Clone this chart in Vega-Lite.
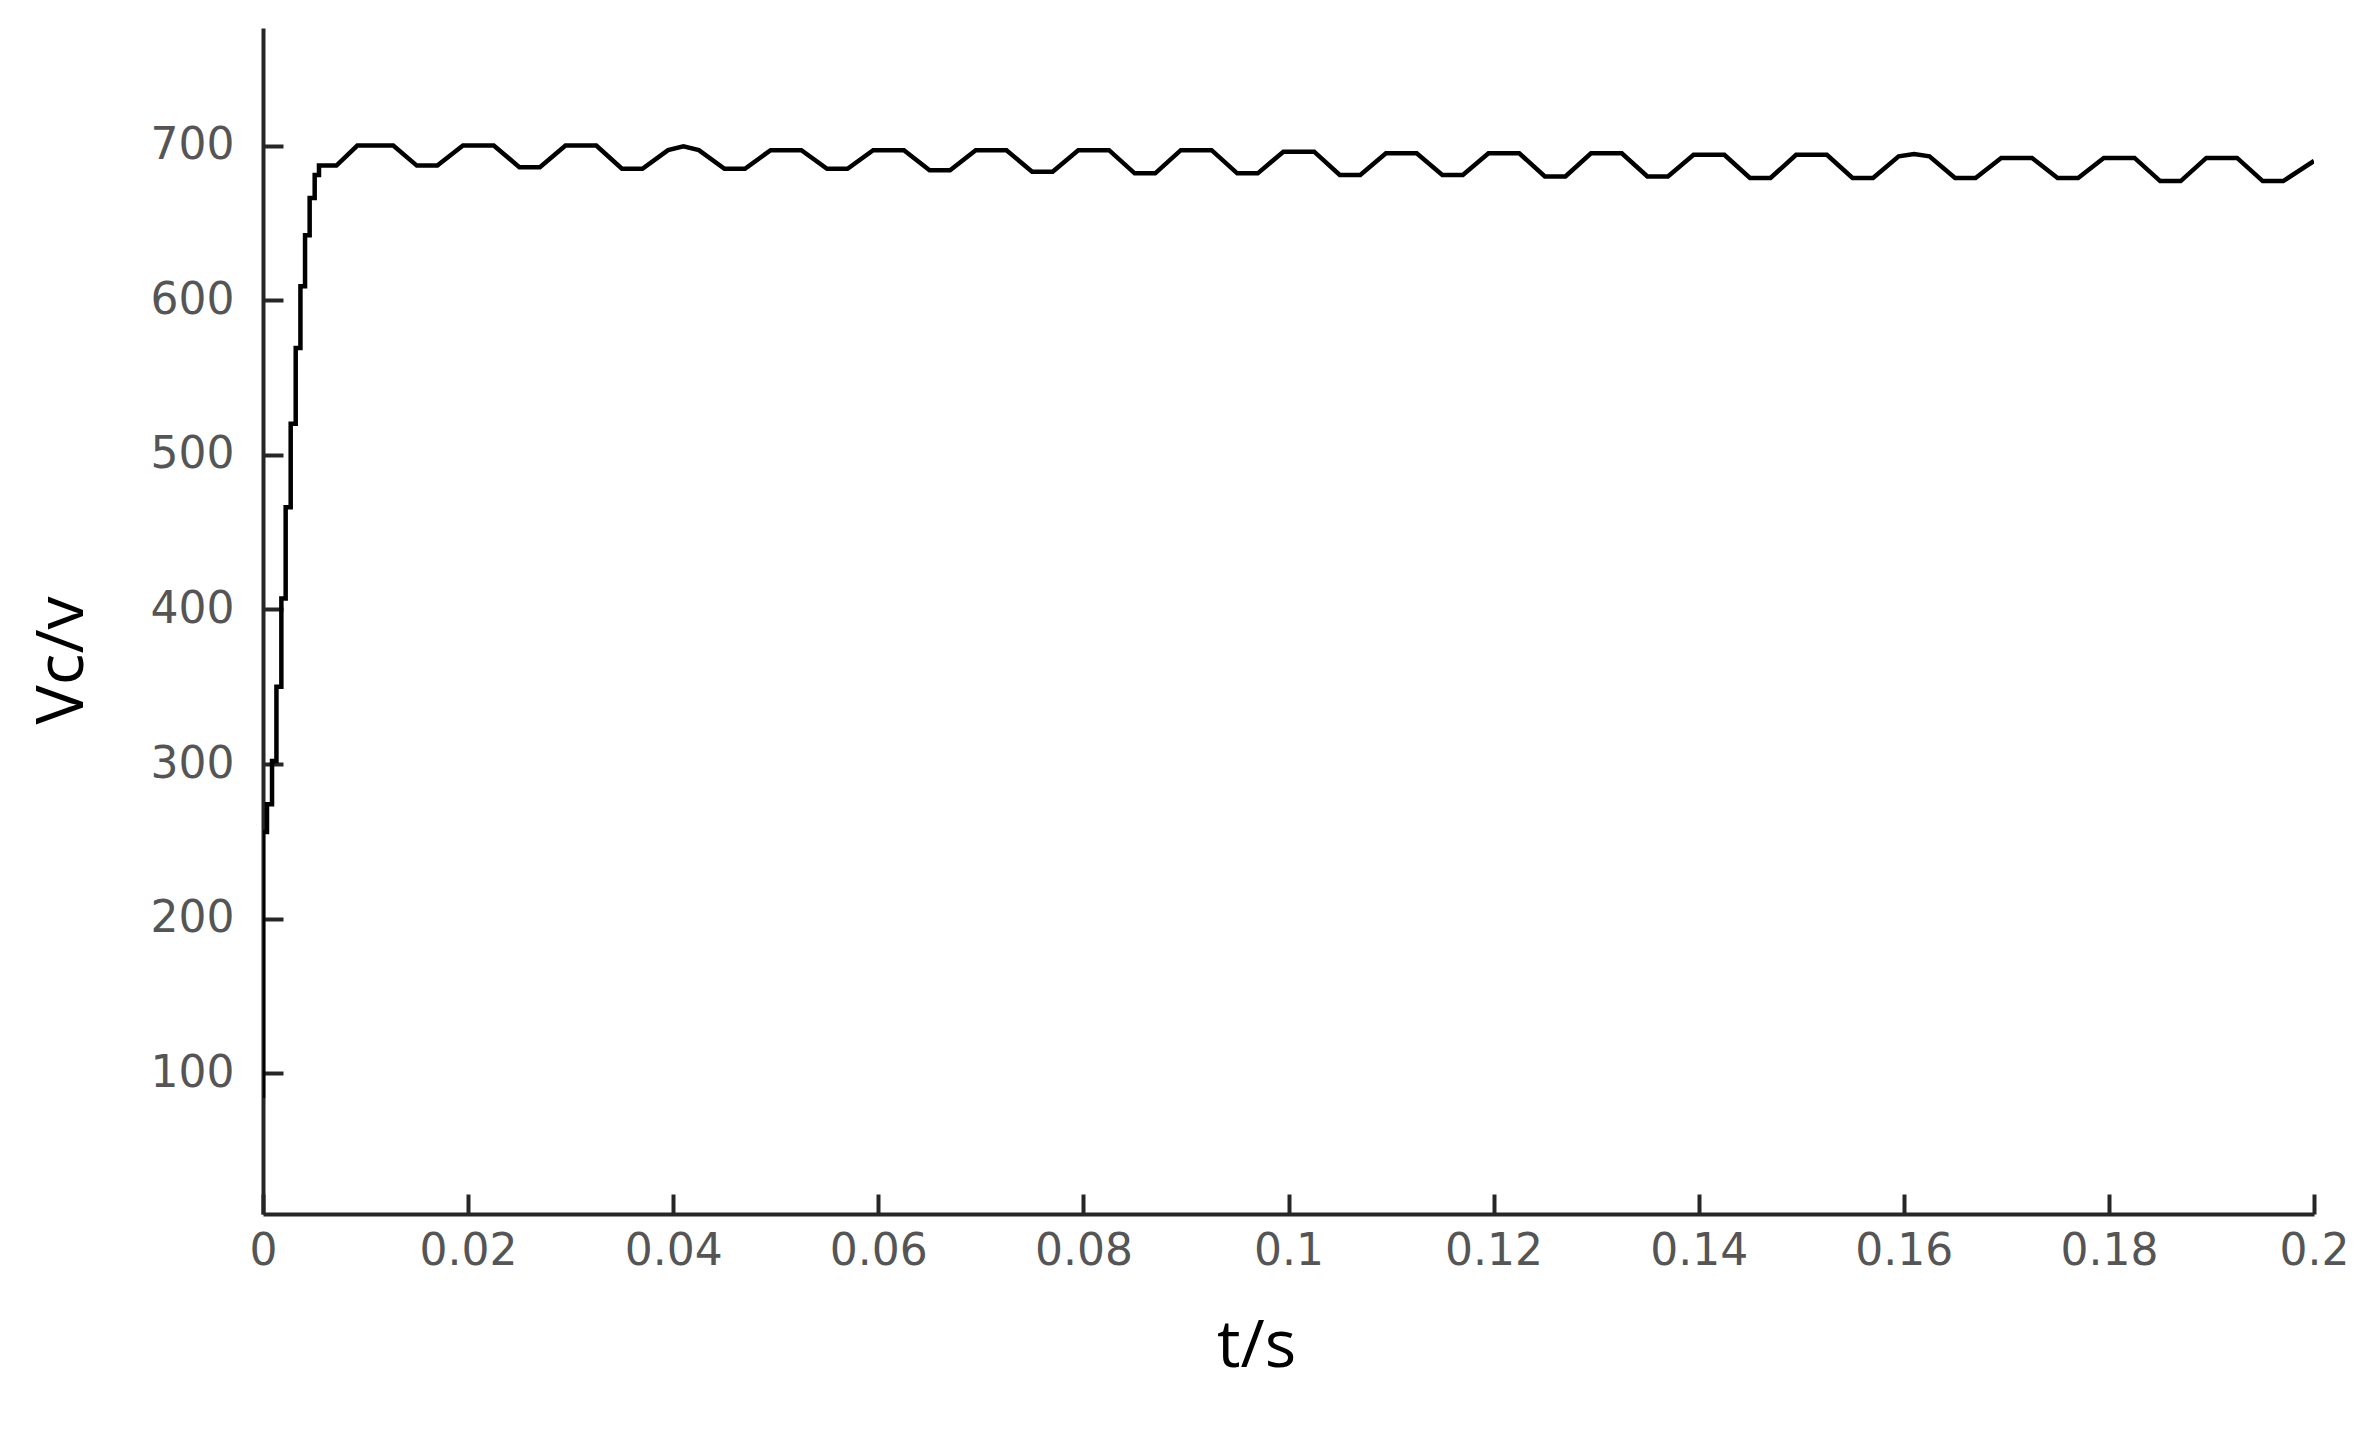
{
  "$schema": "https://vega.github.io/schema/vega-lite/v6.json",
  "autosize": {"type": "none"},
  "width": 2051,
  "height": 1186,
  "padding": {"left": 263, "top": 28, "right": 54, "bottom": 232},
  "background": "white",
  "config": {"view": {"stroke": null}},
  "data": {"values": [
    {"t": 0, "v": 84}, {"t": 0, "v": 256}, {"t": 0.00039, "v": 256}, {"t": 0.00039, "v": 274},
    {"t": 0.00088, "v": 274}, {"t": 0.00088, "v": 302}, {"t": 0.00131, "v": 302}, {"t": 0.00131, "v": 350},
    {"t": 0.00179, "v": 350}, {"t": 0.00179, "v": 407}, {"t": 0.00221, "v": 407}, {"t": 0.00221, "v": 466},
    {"t": 0.0027, "v": 466}, {"t": 0.0027, "v": 520}, {"t": 0.00319, "v": 520}, {"t": 0.00319, "v": 569},
    {"t": 0.00365, "v": 569}, {"t": 0.00365, "v": 609}, {"t": 0.0041, "v": 609}, {"t": 0.0041, "v": 642},
    {"t": 0.00455, "v": 642}, {"t": 0.00455, "v": 666}, {"t": 0.00504, "v": 666}, {"t": 0.00504, "v": 681},
    {"t": 0.00546, "v": 681}, {"t": 0.00546, "v": 687}, {"t": 0.00716, "v": 687},
    {"t": 0.0092, "v": 700}, {"t": 0.0127, "v": 700}, {"t": 0.015, "v": 687}, {"t": 0.017, "v": 687},
    {"t": 0.0195, "v": 700}, {"t": 0.0225, "v": 700}, {"t": 0.025, "v": 686}, {"t": 0.027, "v": 686},
    {"t": 0.0295, "v": 700}, {"t": 0.0325, "v": 700}, {"t": 0.035, "v": 685}, {"t": 0.037, "v": 685},
    {"t": 0.0395, "v": 697}, {"t": 0.041, "v": 699.5}, {"t": 0.0425, "v": 697}, {"t": 0.045, "v": 685}, {"t": 0.047, "v": 685},
    {"t": 0.0495, "v": 697}, {"t": 0.0525, "v": 697}, {"t": 0.055, "v": 685}, {"t": 0.057, "v": 685},
    {"t": 0.0595, "v": 697}, {"t": 0.0625, "v": 697}, {"t": 0.065, "v": 684}, {"t": 0.067, "v": 684},
    {"t": 0.0695, "v": 697}, {"t": 0.0725, "v": 697}, {"t": 0.075, "v": 683}, {"t": 0.077, "v": 683},
    {"t": 0.0795, "v": 697}, {"t": 0.0825, "v": 697}, {"t": 0.085, "v": 682}, {"t": 0.087, "v": 682},
    {"t": 0.0895, "v": 697}, {"t": 0.0925, "v": 697}, {"t": 0.095, "v": 682}, {"t": 0.097, "v": 682},
    {"t": 0.0995, "v": 696}, {"t": 0.1025, "v": 696}, {"t": 0.105, "v": 681}, {"t": 0.107, "v": 681},
    {"t": 0.1095, "v": 695}, {"t": 0.1125, "v": 695}, {"t": 0.115, "v": 681}, {"t": 0.117, "v": 681},
    {"t": 0.1195, "v": 695}, {"t": 0.1225, "v": 695}, {"t": 0.125, "v": 680}, {"t": 0.127, "v": 680},
    {"t": 0.1295, "v": 695}, {"t": 0.1325, "v": 695}, {"t": 0.135, "v": 680}, {"t": 0.137, "v": 680},
    {"t": 0.1395, "v": 694}, {"t": 0.1425, "v": 694}, {"t": 0.145, "v": 679}, {"t": 0.147, "v": 679},
    {"t": 0.1495, "v": 694}, {"t": 0.1525, "v": 694}, {"t": 0.155, "v": 679}, {"t": 0.157, "v": 679},
    {"t": 0.1595, "v": 693}, {"t": 0.161, "v": 694.5}, {"t": 0.1625, "v": 693}, {"t": 0.165, "v": 679}, {"t": 0.167, "v": 679},
    {"t": 0.1695, "v": 692}, {"t": 0.1725, "v": 692}, {"t": 0.175, "v": 679}, {"t": 0.177, "v": 679},
    {"t": 0.1795, "v": 692}, {"t": 0.1825, "v": 692}, {"t": 0.185, "v": 677}, {"t": 0.187, "v": 677},
    {"t": 0.1895, "v": 692}, {"t": 0.1925, "v": 692}, {"t": 0.195, "v": 677}, {"t": 0.197, "v": 677},
    {"t": 0.2, "v": 690}
  ]},
  "mark": {"type": "line", "color": "black", "strokeWidth": 4.5, "clip": true},
  "encoding": {
    "x": {
      "field": "t", "type": "quantitative",
      "scale": {"domain": [0, 0.2], "nice": false, "zero": false},
      "axis": {
        "title": "t/s",
        "values": [0, 0.02, 0.04, 0.06, 0.08, 0.1, 0.12, 0.14, 0.16, 0.18, 0.2],
        "format": "~g",
        "grid": false,
        "domainColor": "#262626", "domainWidth": 4,
        "tickColor": "#262626", "tickWidth": 4, "tickSize": -20,
        "labelFont": "DejaVu Sans", "labelFontSize": 44, "labelColor": "#555555",
        "labelPadding": 35, "labelBaseline": "top",
        "labelFlush": false, "labelOverlap": false,
        "titleFont": "Open Sans", "titleFontSize": 66, "titleFontWeight": "normal", "titleColor": "black",
        "titleX": 993, "titleY": 132, "titleBaseline": "middle", "titleAlign": "center"
      }
    },
    "y": {
      "field": "v", "type": "quantitative",
      "scale": {"domain": [9, 776], "nice": false, "zero": false},
      "axis": {
        "title": "Vc/v",
        "values": [100, 200, 300, 400, 500, 600, 700],
        "format": "d",
        "grid": false,
        "domainColor": "#262626", "domainWidth": 4,
        "tickColor": "#262626", "tickWidth": 4, "tickSize": -20,
        "labelFont": "DejaVu Sans", "labelFontSize": 44, "labelColor": "#555555",
        "labelPadding": 49,
        "labelOverlap": false,
        "titleFont": "Open Sans", "titleFontSize": 66, "titleFontWeight": "normal", "titleColor": "black",
        "titleX": -201, "titleY": 632, "titleBaseline": "middle", "titleAlign": "center", "titleAngle": -90
      }
    },
    "order": {"value": null}
  }
}
